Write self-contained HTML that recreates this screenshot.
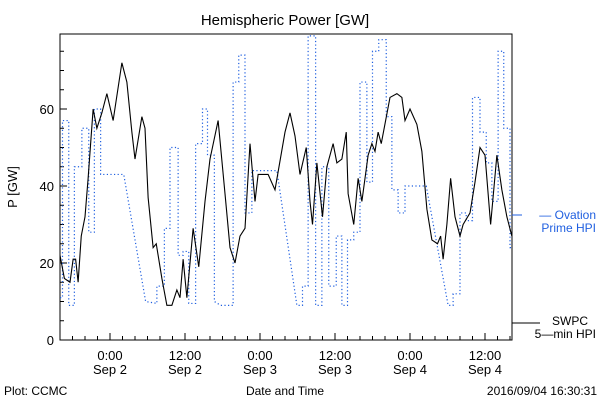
<!DOCTYPE html>
<html><head><meta charset="utf-8"><style>
body{margin:0;background:#fff;}
svg text{font-family:"Liberation Sans","DejaVu Sans",sans-serif;}
</style></head><body>
<svg id="chart" width="600" height="400" xmlns="http://www.w3.org/2000/svg">
<rect width="600" height="400" fill="#fff"/>
<text x="285" y="25" font-size="15" text-anchor="middle">Hemispheric Power [GW]</text>
<text transform="translate(17,187) rotate(-90)" font-size="13" text-anchor="middle">P [GW]</text>
<text x="285" y="395" font-size="12" text-anchor="middle">Date and Time</text>
<text x="4" y="395" font-size="12">Plot: CCMC</text>
<text x="597" y="395" font-size="12" text-anchor="end">2016/09/04 16:30:31</text>
<g id="axes"></g>
<g id="series"></g>
<g>
<line x1="512" y1="215" x2="522" y2="215" stroke="#1f5fe0" stroke-width="1"/>
<text x="596" y="219" font-size="12" fill="#1f5fe0" text-anchor="end">— Ovation</text>
<text x="596" y="232" font-size="12" fill="#1f5fe0" text-anchor="end">Prime HPI</text>
</g>
<g>
<line x1="512" y1="323" x2="540" y2="323" stroke="#000" stroke-width="1"/>
<text x="588" y="325" font-size="12" text-anchor="end">SWPC</text>
<text x="596" y="338" font-size="12" text-anchor="end">5—min HPI</text>
</g>
</svg>
<script>
const yTicks=[0,20,40,60];
const xTickHours=[0,12,24,36,48,60];
const xTickTimes=["0:00","12:00","0:00","12:00","0:00","12:00"];
const xTickDates=["Sep 2","Sep 2","Sep 3","Sep 3","Sep 4","Sep 4"];
const swpcT=[-8,-7.3,-6.4,-5.9,-5.5,-5.1,-4.6,-4,-3.5,-2.7,-2.1,-1.3,-0.5,0.5,1.9,2.7,3.5,4,5.1,5.6,6.1,6.9,7.4,8.3,9.1,9.9,10.7,11.2,11.7,12.3,13.3,14.2,15.2,16,17.3,18.4,19.2,20,20.8,21.6,22.4,23.2,23.7,25.3,26.4,28,28.8,29.6,30.4,31.4,32,32.4,33.1,34,34.7,35.7,36.3,37.1,37.8,38.1,39,39.7,40.3,41.3,41.9,42.4,42.9,43.4,44.8,45.9,46.7,47.2,48,49.1,49.9,50.7,51.5,52.4,52.9,53.3,53.9,54.5,55.2,56,56.5,57.6,58.4,59.2,60,60.9,61.9,62.7,63.5,64.3];
const swpcV=[22,16,15,21,21,15,27,32,42,60,55,59,64,57,72,67,54,47,58,55,37,24,25,16,9,9,13,11,21,11,29,19,36,47,57,38,24,20,27,29,51,36,43,43,39,54,59,53,43,50,36,30,46,32,45,51,46,47,54,38,30,42,36,48,51,49,54,51,63,64,63,57,60,56,49,34,26,25,27,21,30,42,32,27,30,33,41,50,48,30,48,39,32,27];
const ovT=[-8,-7.6,-7.6,-6.6,-6.6,-5.7,-5.7,-4.5,-4.5,-3.4,-3.4,-2.5,-2.5,-1.5,-1.5,2.2,5.7,7.5,7.5,8.7,8.7,9.6,9.6,10.9,10.9,11.7,11.7,12.6,12.6,13.7,13.7,14.8,14.8,15.6,15.6,16.7,16.7,17.7,19.7,19.7,20.6,20.6,21.6,21.6,22.7,22.7,26.7,29.9,30.8,30.8,31.7,31.7,32.9,32.9,33.9,33.9,35,35,36.2,36.2,37.1,37.1,38,38,39,39,40,40,41.1,41.1,42,42,43,43,44.2,44.2,45.1,45.1,46.1,46.1,47.2,47.2,50.6,54.1,54.9,54.9,56,56,57,57,58,58,59.2,59.2,60.2,60.2,61.1,61.1,62.1,62.1,63,63,64,64,64.3];
const ovV=[11,11,57,57,9,9,45,45,55,55,28,28,60,60,43,43,10,9.5,14,14,29,29,50,50,22,22,23,23,9.5,9.5,51,51,60,60,48,48,10,9,9,67,67,74,74,33,33,44,44,9,9,14,14,79,79,9,9,45,45,14,14,27,27,9,9,26,26,28,28,67,67,41,41,75,75,78,78,58,58,39,39,33,33,40,40,9,9,12,12,33,33,31,31,63,63,54,54,46,46,36,36,75,75,55,55,24,24];
const L=60,R=512,T=34,B=340;
const xs=h=>110+h*6.25, ys=v=>B-v*3.85;
const NS="http://www.w3.org/2000/svg";
const ax=document.getElementById('axes'), se=document.getElementById('series');
function mk(tag,attrs,parent){const e=document.createElementNS(NS,tag);for(const k in attrs)e.setAttribute(k,attrs[k]);parent.appendChild(e);return e;}
const frame=mk('rect',{x:L,y:T,width:R-L,height:B-T,fill:'none',stroke:'#000','stroke-width':1},ax);


for(let v=5;v<80;v+=5){const t=mk('line',{x1:L,x2:L+(v%20===0?7:4),y1:ys(v),y2:ys(v),stroke:'#000'},ax);

}
yTicks.forEach(v=>{const t=mk('text',{x:L-6,y:ys(v)+5,'font-size':13,'text-anchor':'end'},ax);t.textContent=v;

});
for(let h=-6;h<=64;h+=2){const t=mk('line',{x1:xs(h),x2:xs(h),y1:B,y2:B-(h%12===0?7:4),stroke:'#000'},ax);

}
xTickHours.forEach((h,i)=>{const a=mk('text',{x:xs(h),y:B+20,'font-size':13,'text-anchor':'middle'},ax);a.textContent=xTickTimes[i];


const b=mk('text',{x:xs(h),y:B+34,'font-size':13,'text-anchor':'middle'},ax);b.textContent=xTickDates[i];

});
const ov=mk('polyline',{points:ovT.map((t,i)=>xs(t)+','+ys(Math.min(ovV[i],79.4))).join(' '),fill:'none',stroke:'#1f5fe0','stroke-width':1.2,'stroke-dasharray':'1.2 2.4'},se);


const sw=mk('polyline',{points:swpcT.map((t,i)=>xs(t)+','+ys(swpcV[i])).join(' '),fill:'none',stroke:'#000','stroke-width':1.1},se);


</script>
</body></html>
